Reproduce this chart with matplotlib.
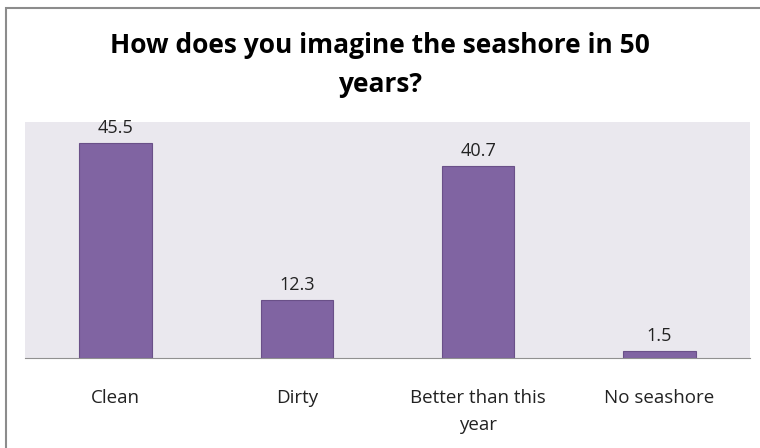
import matplotlib.pyplot as plt
from matplotlib.patches import Rectangle

categories = ["Clean", "Dirty", "Better than this\nyear", "No seashore"]
values = [45.5, 12.3, 40.7, 1.5]
labels = ["45.5", "12.3", "40.7", "1.5"]

plt.rcParams['font.family'] = ['Open Sans', 'DejaVu Sans']

fig = plt.figure(figsize=(7.6, 4.48), dpi=100)
# chart border (only top and left visible, rest cut off)
fig.patches.append(Rectangle((6 / 760, -0.1), 1.2, 440 / 448 + 0.1,
                             transform=fig.transFigure, fill=False,
                             edgecolor="#8c8c8c", linewidth=1.5))

ax = fig.add_axes([25 / 760, 1 - 358 / 448, 725 / 760, 236 / 448])
ax.set_facecolor("#eae8ee")
x = range(len(categories))
ax.bar(x, values, width=0.4, color="#8064a2", edgecolor="#6a5088", linewidth=0.8)
for i, v in enumerate(values):
    ax.text(i, v + 1.3, labels[i], ha="center", va="bottom", fontsize=13, color="#222222")

ax.set_xlim(-0.5, 3.5)
ax.set_ylim(0, 50)
ax.set_yticks([])
ax.set_xticks(list(x))
ax.set_xticklabels(categories, fontsize=13.5, linespacing=1.7, color="#222222")
ax.tick_params(axis="x", length=0, pad=22)
for s in ["top", "left", "right"]:
    ax.spines[s].set_visible(False)
ax.spines["bottom"].set_color("#909090")

fig.text(0.5, 1 - 65 / 448, "How does you imagine the seashore in 50\nyears?",
         ha="center", va="center", fontsize=19, fontweight="bold", linespacing=1.55)

fig.savefig("out.png", dpi=100)
